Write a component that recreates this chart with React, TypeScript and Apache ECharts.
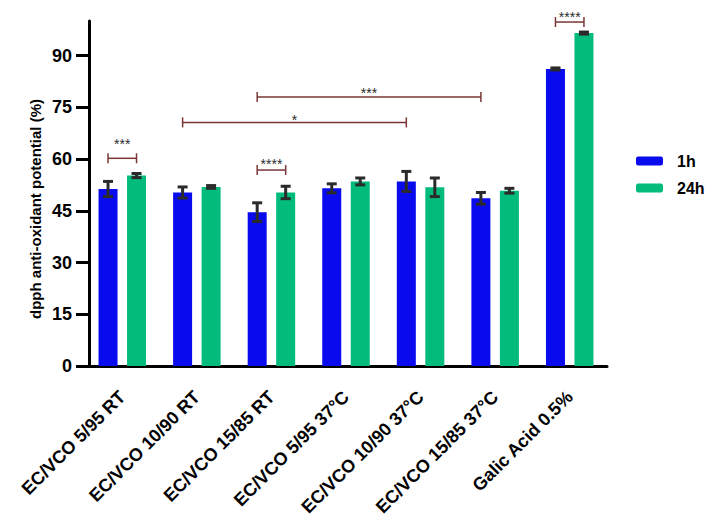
import React, { useEffect, useRef } from 'react';
import * as echarts from 'echarts';

const categories = [
  'EC/VCO 5/95 RT',
  'EC/VCO 10/90 RT',
  'EC/VCO 15/85 RT',
  'EC/VCO 5/95 37°C',
  'EC/VCO 10/90 37°C',
  'EC/VCO 15/85 37°C',
  'Galic Acid 0.5%'
];
const seriesNames = ['1h', '24h'];
const mean1h = [51.3, 50.3, 44.6, 51.5, 53.5, 48.6, 86.1];
const err1h = [2.2, 1.6, 2.7, 1.3, 2.9, 1.7, 0.3];
const mean24h = [55.2, 51.9, 50.3, 53.5, 51.8, 50.8, 96.5];
const err24h = [0.6, 0.4, 1.8, 1.0, 2.7, 0.7, 0.3];
const yTicks = [0, 15, 30, 45, 60, 75, 90];

// significance brackets: category index + bar (0 = 1h, 1 = 24h) at each end
const bracketFrom = [0, 2, 1, 2, 6];
const bracketFromBar = [0, 0, 0, 0, 0];
const bracketTo = [0, 2, 4, 5, 6];
const bracketToBar = [1, 1, 0, 0, 1];
const bracketY = [60.2, 56.8, 70.6, 78, 99.7];
const bracketLabelY = [65.4, 59.8, 72.6, 80.2, 102.2];
const bracketLabels = ['***', '****', '*', '***', '****'];

const BLUE = '#0a0aee';
const GREEN = '#03bb7a';
const FONT = "'Liberation Sans', Arial, sans-serif";
const BAR_W = 19;
const BAR_GAP = 0.5;
const HALF_STEP = (BAR_W * (1 + BAR_GAP)) / 2;

const App = () => {
  const chartRef = useRef<HTMLDivElement>(null);

  useEffect(() => {
    const chart = echarts.init(chartRef.current!, null, { renderer: 'svg' });

    const errorSeries = (means: number[], errs: number[], side: number) => ({
      type: 'custom',
      z: 5,
      data: means.map((m, i) => [i, m, errs[i]]),
      renderItem: (params: any, api: any) => {
        const cat = api.value(0);
        const m = api.value(1);
        const e = api.value(2);
        const x = api.coord([cat, m])[0] + side * HALF_STEP;
        const yt = api.coord([cat, m + e])[1];
        const yb = api.coord([cat, m - e])[1];
        const st = { stroke: '#2b2b2b', lineWidth: 3 };
        return {
          type: 'group',
          children: [
            { type: 'line', shape: { x1: x, y1: yt, x2: x, y2: yb }, style: st },
            { type: 'line', shape: { x1: x - 5, y1: yt, x2: x + 5, y2: yt }, style: st },
            { type: 'line', shape: { x1: x - 5, y1: yb, x2: x + 5, y2: yb }, style: st }
          ]
        };
      }
    });

    const bracketData = bracketFrom.map((f, i) => [
      f,
      bracketY[i],
      bracketTo[i],
      bracketLabelY[i],
      bracketFromBar[i],
      bracketToBar[i]
    ]);

    const option: any = {
      animation: false,
      grid: { left: 85, right: 107, top: 21, bottom: 163 },
      legend: {
        data: seriesNames,
        orient: 'vertical',
        left: 631,
        top: 148,
        itemWidth: 27,
        itemHeight: 9,
        itemGap: 11,
        icon: 'roundRect',
        textStyle: {
          fontFamily: FONT,
          fontWeight: 'bold',
          fontSize: 16,
          color: '#000',
          padding: [0, 0, 0, 9]
        }
      },
      graphic: [
        {
          type: 'text',
          x: 35,
          y: 209,
          rotation: Math.PI / 2,
          style: {
            text: 'dpph anti-oxidant potential (%)',
            fontFamily: FONT,
            fontWeight: 'bold',
            fontSize: 15,
            fill: '#000',
            align: 'center',
            verticalAlign: 'middle'
          }
        }
      ],
      xAxis: {
        type: 'category',
        data: categories,
        axisLine: { lineStyle: { color: '#000', width: 3 } },
        axisTick: { alignWithLabel: true, length: 13, lineStyle: { color: '#000', width: 3 } },
        axisLabel: {
          rotate: 45,
          interval: 0,
          margin: 28,
          fontFamily: FONT,
          fontWeight: 'bold',
          fontSize: 18,
          color: '#000'
        }
      },
      yAxis: {
        type: 'value',
        min: 0,
        max: 100,
        offset: -4,
        splitLine: { show: false },
        axisLine: { show: true, lineStyle: { color: '#000', width: 3 } },
        axisTick: {
          show: true,
          length: 13,
          customValues: yTicks,
          lineStyle: { color: '#000', width: 3 }
        },
        axisLabel: {
          customValues: yTicks,
          margin: 17,
          fontFamily: FONT,
          fontWeight: 'bold',
          fontSize: 18,
          color: '#000'
        }
      },
      series: [
        {
          name: seriesNames[0],
          type: 'bar',
          barWidth: BAR_W,
          barGap: '50%',
          itemStyle: { color: BLUE },
          data: mean1h
        },
        {
          name: seriesNames[1],
          type: 'bar',
          barWidth: BAR_W,
          barGap: '50%',
          itemStyle: { color: GREEN },
          data: mean24h
        },
        errorSeries(mean1h, err1h, -1),
        errorSeries(mean24h, err24h, 1),
        {
          type: 'custom',
          z: 6,
          data: bracketData,
          renderItem: (params: any, api: any) => {
            const y = api.value(1);
            const side = (b: number) => (b === 0 ? -1 : 1) * HALF_STEP;
            const x1 = api.coord([api.value(0), y])[0] + side(api.value(4));
            const x2 = api.coord([api.value(2), y])[0] + side(api.value(5));
            const py = api.coord([api.value(0), y])[1];
            const ty = api.coord([api.value(0), api.value(3)])[1];
            const st = { stroke: '#7a3636', lineWidth: 1.5 };
            return {
              type: 'group',
              children: [
                { type: 'line', shape: { x1, y1: py, x2, y2: py }, style: st },
                { type: 'line', shape: { x1, y1: py - 5, x2: x1, y2: py + 5 }, style: st },
                { type: 'line', shape: { x1: x2, y1: py - 5, x2, y2: py + 5 }, style: st },
                {
                  type: 'text',
                  x: (x1 + x2) / 2,
                  y: ty + 4,
                  style: {
                    text: bracketLabels[params.dataIndex],
                    fontFamily: FONT,
                    fontSize: 14,
                    fill: '#2a2a2a',
                    align: 'center',
                    verticalAlign: 'middle'
                  }
                }
              ]
            };
          }
        }
      ]
    };

    chart.setOption(option);
    return () => chart.dispose();
  }, []);

  return (
    <div
      ref={chartRef}
      style={{ position: 'absolute', left: 0, top: 0, width: 714, height: 529, background: '#fff' }}
    />
  );
};

export default App;
